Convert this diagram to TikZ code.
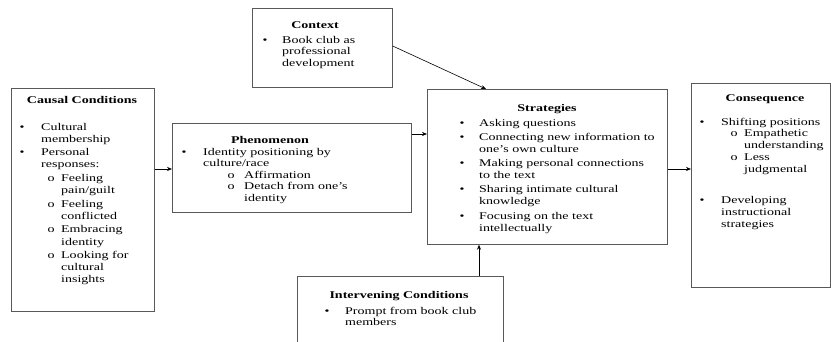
\documentclass[tikz,border=0pt]{standalone}
\usepackage{fontspec}
\setmainfont{Liberation Serif}[FakeStretch=1.36]
\usetikzlibrary{arrows.meta}
\newcommand{\bul}[1]{\makebox[#1][l]{\textbullet}}
\newcommand{\sbul}[2]{\hspace*{#1}\makebox[#2][l]{o}}
\newcommand{\ind}[1]{\hspace*{#1}}
\newcommand{\cont}[2]{\parbox[t]{300pt}{\raggedright\hyphenpenalty=10000\exhyphenpenalty=10000\fontsize{10.3}{#1}\selectfont #2}}
\begin{document}
\begin{tikzpicture}[x=1pt,y=-1pt,
  box/.style={draw=black!65,line width=0.7pt,inner sep=0pt,anchor=north west},
  ttl/.style={inner sep=0pt,anchor=base,font=\fontsize{10.3}{12}\selectfont\bfseries},
  txt/.style={inner sep=0pt,anchor=base west},
  arr/.style={draw=black,line width=0.6pt,-{Stealth[length=5pt,width=4pt]}}]
\useasboundingbox (0,0) rectangle (831,341);
\clip (0,0) rectangle (831,341);
% boxes
\node[box,minimum width=143pt,minimum height=223pt] (causal) at (11,88) {};
\node[box,minimum width=239pt,minimum height=89pt] (phen) at (172,123) {};
\node[box,minimum width=140pt,minimum height=79pt] (context) at (252,8) {};
\node[box,minimum width=240pt,minimum height=155pt] (strat) at (427,89) {};
\node[box,minimum width=139pt,minimum height=204pt] (conseq) at (691,83) {};
\node[box,minimum width=206pt,minimum height=90pt] (interv) at (297,276) {};
% titles
\node[ttl] (tcausal) at (82,103.5) {Causal Conditions};
\node[ttl] (tphen) at (270,143.5) {Phenomenon};
\node[ttl] (tcontext) at (315,28.5) {Context};
\node[ttl] (tstrat) at (547,111.5) {Strategies};
\node[ttl] (tconseq) at (765,101.5) {Consequence};
\node[ttl] (tinterv) at (399,298.5) {Intervening Conditions};
% contents
\node[txt] (ccausal) at (19.5,130) {\cont{12.2pt}{%
\bul{21.5pt}Cultural\\
\ind{21.5pt}membership\\[1.3pt]
\bul{21.5pt}Personal\\
\ind{21.5pt}responses:\\[1.3pt]
\sbul{28pt}{13.5pt}Feeling\\
\ind{41.5pt}pain/guilt\\[1.3pt]
\sbul{28pt}{13.5pt}Feeling\\
\ind{41.5pt}conflicted\\[1.3pt]
\sbul{28pt}{13.5pt}Embracing\\
\ind{41.5pt}identity\\[1.3pt]
\sbul{28pt}{13.5pt}Looking for\\
\ind{41.5pt}cultural\\
\ind{41.5pt}insights}};
\node[txt] (cphen) at (181.5,155) {\cont{11.6pt}{%
\bul{21.5pt}Identity positioning by\\
\ind{21.5pt}culture/race\\
\sbul{46pt}{16.5pt}Affirmation\\
\sbul{46pt}{16.5pt}Detach from one’s\\
\ind{62.5pt}identity}};
\node[txt] (ccontext) at (262.5,43) {\cont{11.5pt}{%
\bul{19.5pt}Book club as\\
\ind{19.5pt}professional\\
\ind{19.5pt}development}};
\node[txt] (cstrat) at (459.5,126) {\cont{12pt}{%
\bul{19.5pt}Asking questions\\[2.3pt]
\bul{19.5pt}Connecting new information to\\
\ind{19.5pt}one’s own culture\\[2.3pt]
\bul{19.5pt}Making personal connections\\
\ind{19.5pt}to the text\\[2.3pt]
\bul{19.5pt}Sharing intimate cultural\\
\ind{19.5pt}knowledge\\[2.3pt]
\bul{19.5pt}Focusing on the text\\
\ind{19.5pt}intellectually}};
\node[txt] (cconseq) at (699.5,125) {\cont{11.75pt}{%
\bul{21.5pt}Shifting positions\\
\sbul{31pt}{13.5pt}Empathetic\\
\ind{44.5pt}understanding\\
\sbul{31pt}{13.5pt}Less\\
\ind{44.5pt}judgmental\\[20.2pt]
\bul{21.5pt}Developing\\
\ind{21.5pt}instructional\\
\ind{21.5pt}strategies}};
\node[txt] (cinterv) at (324.5,314) {\cont{11.5pt}{%
\bul{20.5pt}Prompt from book club\\
\ind{20.5pt}members}};
% connector coordinates
\coordinate (y134) at (0,134);
\coordinate (y169) at (0,169);
\coordinate (x486) at (486,0);
\coordinate (x479) at (479,0);
\coordinate (y46) at (0,46);
% connectors
\draw[arr] (causal.east |- y169) -- (phen.west |- y169);
\draw[arr] (phen.east |- y134) -- (strat.west |- y134);
\draw[arr] (strat.east |- y169) -- (conseq.west |- y169);
\draw[arr] (context.east |- y46) -- (strat.north -| x486);
\draw[arr] (interv.north -| x479) -- (strat.south -| x479);
\end{tikzpicture}
\end{document}
